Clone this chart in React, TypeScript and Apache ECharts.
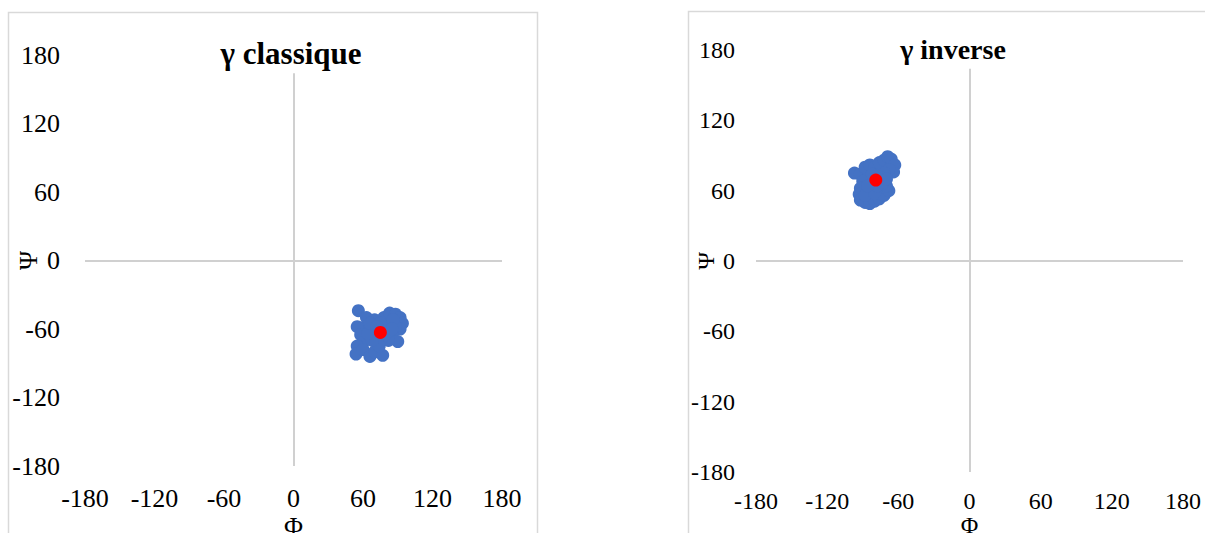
import React, { useEffect, useRef } from "react";
import * as echarts from "echarts";

const ticks = [-180, -120, -60, 0, 60, 120, 180];
const titles = ["γ classique", "γ inverse"];

const classiquePoints: [number, number][] = [
  [56, -44], [63, -50], [70, -52], [78, -50], [83, -46], [88, -47], [92, -50], [94, -55],
  [92, -60], [88, -58], [85, -65], [90, -71], [82, -70], [76, -68], [70, -62], [62, -58],
  [55, -58], [58, -65], [60, -72], [55, -75], [54, -82], [60, -78], [66, -84], [70, -80],
  [77, -83], [74, -75], [68, -70], [64, -64], [80, -58], [75, -55], [86, -52], [66, -55],
  [72, -58], [80, -64], [85, -60],
];
const classiqueMean: [number, number][] = [[75, -63]];

const inversePoints: [number, number][] = [
  [-97, 75], [-92, 74], [-88, 80], [-84, 82], [-80, 80], [-76, 84], [-72, 86], [-69, 89],
  [-66, 87], [-63, 82], [-64, 76], [-68, 78], [-72, 75], [-76, 72], [-86, 70], [-90, 68],
  [-92, 62], [-93, 57], [-92, 52], [-88, 50], [-84, 49], [-80, 51], [-76, 53], [-72, 56],
  [-68, 60], [-70, 64], [-74, 66], [-84, 60], [-88, 56], [-80, 58], [-78, 64], [-86, 64],
  [-70, 70], [-82, 74],
];
const inverseMean: [number, number][] = [[-79, 69]];

const FONT = "Liberation Serif";

export default function App() {
  const ref = useRef<HTMLDivElement>(null);
  useEffect(() => {
    if (!ref.current) return;
    const chart = echarts.init(ref.current, null, { renderer: "svg" });

    const grids = [
      { left: 85, top: 55, width: 417, height: 411 },
      { left: 756, top: 50, width: 427, height: 422 },
    ];
    const fontSizes = [26, 24];
    const xLabelMargins = [19, 17];
    const yLabelMargins = [25, 21];
    const xNameGaps = [47, 41];
    const yNameGaps = [44, 38];

    const axisLineStyle = { color: "#d0d0d0", width: 2 };

    const mkX = (i: number) => ({
      type: "value",
      gridIndex: i,
      min: -180,
      max: 180,
      interval: 60,
      name: "Φ",
      nameLocation: "middle",
      nameGap: xNameGaps[i],
      nameMoveOverlap: false,
      nameTextStyle: { fontFamily: FONT, fontSize: fontSizes[i], color: "#000" },
      axisLine: { show: false },
      axisTick: { show: false },
      splitLine: { show: false },
      axisLabel: {
        fontFamily: FONT,
        fontSize: fontSizes[i],
        color: "#000",
        margin: xLabelMargins[i],
        formatter: (v: number) => (ticks.includes(v) ? String(v) : ""),
      },
    });
    const mkY = (i: number) => ({
      type: "value",
      gridIndex: i,
      min: -180,
      max: 180,
      interval: 60,
      name: "Ψ",
      nameLocation: "middle",
      nameRotate: 90,
      nameGap: yNameGaps[i],
      nameMoveOverlap: false,
      nameTextStyle: { fontFamily: FONT, fontSize: fontSizes[i], color: "#000" },
      axisLine: { show: false },
      axisTick: { show: false },
      splitLine: { show: false },
      axisLabel: {
        fontFamily: FONT,
        fontSize: fontSizes[i],
        color: "#000",
        margin: yLabelMargins[i],
      },
    });

    const axesLines = (i: number) => ({
      type: "scatter",
      xAxisIndex: i,
      yAxisIndex: i,
      data: [],
      silent: true,
      markLine: {
        silent: true,
        symbol: "none",
        label: { show: false },
        lineStyle: { ...axisLineStyle, type: "solid" },
        data: [
          [{ coord: [-180, 0] }, { coord: [180, 0] }],
          [{ coord: [0, -180] }, { coord: [0, 164] }],
        ],
      },
      z: 1,
    });

    const option = {
      animation: false,
      backgroundColor: "#ffffff",
      grid: grids.map((g) => ({ ...g, containLabel: false, outerBoundsMode: "none" })),
      xAxis: [mkX(0), mkX(1)],
      yAxis: [mkY(0), mkY(1)],
      graphic: [
        {
          type: "rect",
          shape: { x: 8.5, y: 12.5, width: 529, height: 540 },
          style: { fill: "none", stroke: "#d9d9d9", lineWidth: 1.5 },
          z: -1,
        },
        {
          type: "rect",
          shape: { x: 688.5, y: 11.5, width: 540, height: 540 },
          style: { fill: "none", stroke: "#d9d9d9", lineWidth: 1.5 },
          z: -1,
        },
        {
          type: "text",
          x: 291,
          y: 53,
          style: {
            text: titles[0],
            font: `bold 31px ${FONT}`,
            fill: "#000",
            textAlign: "center",
            textVerticalAlign: "middle",
          },
        },
        {
          type: "text",
          x: 953,
          y: 49,
          style: {
            text: titles[1],
            font: `bold 28px ${FONT}`,
            fill: "#000",
            textAlign: "center",
            textVerticalAlign: "middle",
          },
        },
      ],
      series: [
        axesLines(0),
        axesLines(1),
        {
          type: "scatter",
          xAxisIndex: 0,
          yAxisIndex: 0,
          data: classiquePoints,
          symbolSize: 13,
          itemStyle: { color: "#4472C4", opacity: 1 },
          z: 2,
        },
        {
          type: "scatter",
          xAxisIndex: 0,
          yAxisIndex: 0,
          data: classiqueMean,
          symbolSize: 13,
          itemStyle: { color: "#FF0000", opacity: 1 },
          z: 3,
        },
        {
          type: "scatter",
          xAxisIndex: 1,
          yAxisIndex: 1,
          data: inversePoints,
          symbolSize: 13,
          itemStyle: { color: "#4472C4", opacity: 1 },
          z: 2,
        },
        {
          type: "scatter",
          xAxisIndex: 1,
          yAxisIndex: 1,
          data: inverseMean,
          symbolSize: 13,
          itemStyle: { color: "#FF0000", opacity: 1 },
          z: 3,
        },
      ],
    };
    chart.setOption(option as any);
    return () => chart.dispose();
  }, []);

  return (
    <div
      ref={ref}
      style={{ position: "fixed", left: 0, top: 0, width: 1205, height: 533 }}
    />
  );
}
